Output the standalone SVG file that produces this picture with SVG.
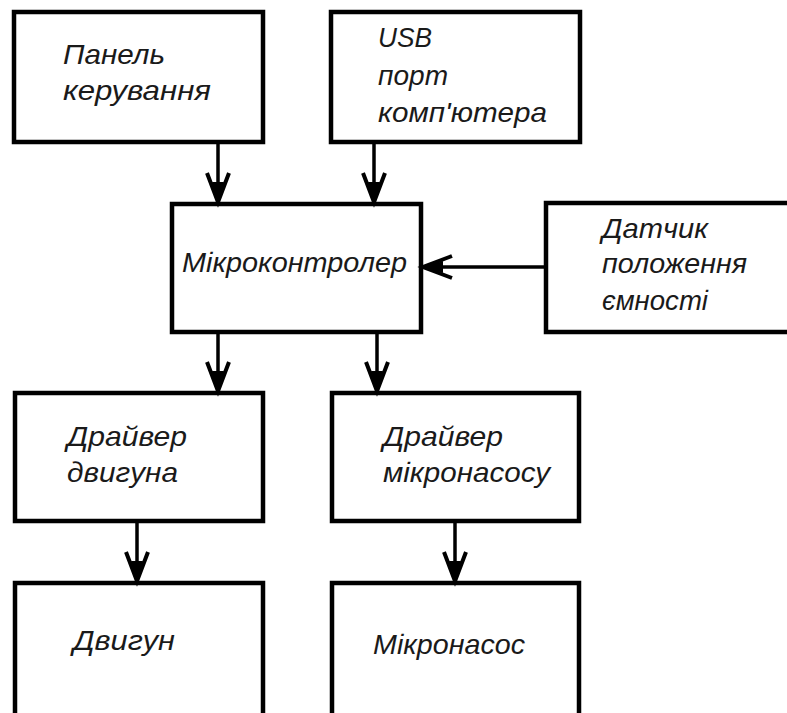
<svg xmlns="http://www.w3.org/2000/svg" width="787" height="713" viewBox="0 0 787 713">
  <style>
    .box { fill: #ffffff; stroke: #000000; stroke-width: 4.5; }
    .lbl { font-family: "Liberation Sans", "DejaVu Sans", sans-serif; font-style: italic; font-size: 28px; fill: #1a1a1a; }
    .wire { stroke: #000000; stroke-width: 3.5; fill: none; }
  </style>
  <defs>
    <marker id="arr" markerUnits="userSpaceOnUse" markerWidth="32" markerHeight="26" refX="30" refY="13" orient="auto" overflow="visible">
      <path d="M1,2 L30,13 L1,24" fill="none" stroke="#000" stroke-width="4"/>
      <path d="M10,7 L30,13 L10,19 Z" fill="#000"/>
    </marker>
  </defs>
  <rect width="787" height="713" fill="#ffffff"/>

  <g id="panel">
    <rect class="box" x="14" y="12" width="249" height="130"/>
    <text class="lbl" x="63" y="64" textLength="102" lengthAdjust="spacingAndGlyphs">Панель</text>
    <text class="lbl" x="63" y="100" textLength="148" lengthAdjust="spacingAndGlyphs">керування</text>
  </g>

  <g id="usb">
    <rect class="box" x="331" y="12" width="249" height="130"/>
    <text class="lbl" x="378" y="47" textLength="54" lengthAdjust="spacingAndGlyphs">USB</text>
    <text class="lbl" x="378" y="85" textLength="70" lengthAdjust="spacingAndGlyphs">порт</text>
    <text class="lbl" x="378" y="122" textLength="169" lengthAdjust="spacingAndGlyphs">комп'ютера</text>
  </g>

  <g id="mcu">
    <rect class="box" x="172" y="204" width="249" height="128"/>
    <text class="lbl" x="182" y="272" textLength="225" lengthAdjust="spacingAndGlyphs">Мікроконтролер</text>
  </g>

  <g id="sensor">
    <rect class="box" x="546" y="203" width="260" height="129"/>
    <text class="lbl" x="602" y="238" textLength="106" lengthAdjust="spacingAndGlyphs">Датчик</text>
    <text class="lbl" x="602" y="273" textLength="145" lengthAdjust="spacingAndGlyphs">положення</text>
    <text class="lbl" x="602" y="310" textLength="106" lengthAdjust="spacingAndGlyphs">ємності</text>
  </g>

  <g id="motor-driver">
    <rect class="box" x="15" y="393" width="248" height="128"/>
    <text class="lbl" x="67" y="446" textLength="120" lengthAdjust="spacingAndGlyphs">Драйвер</text>
    <text class="lbl" x="67" y="482" textLength="111" lengthAdjust="spacingAndGlyphs">двигуна</text>
  </g>

  <g id="pump-driver">
    <rect class="box" x="332" y="393" width="247" height="128"/>
    <text class="lbl" x="383" y="446" textLength="120" lengthAdjust="spacingAndGlyphs">Драйвер</text>
    <text class="lbl" x="383" y="482" textLength="167" lengthAdjust="spacingAndGlyphs">мікронасосу</text>
  </g>

  <g id="motor">
    <rect class="box" x="15" y="583" width="248" height="200"/>
    <text class="lbl" x="73" y="650" textLength="102" lengthAdjust="spacingAndGlyphs">Двигун</text>
  </g>

  <g id="pump">
    <rect class="box" x="332" y="583" width="247" height="200"/>
    <text class="lbl" x="373" y="654" textLength="152" lengthAdjust="spacingAndGlyphs">Мікронасос</text>
  </g>

  <g id="connectors">
    <line class="wire" x1="218" y1="144" x2="218" y2="202" marker-end="url(#arr)"/>
    <line class="wire" x1="374" y1="144" x2="374" y2="202" marker-end="url(#arr)"/>
    <line class="wire" x1="544" y1="267" x2="423" y2="267" marker-end="url(#arr)"/>
    <line class="wire" x1="218" y1="334" x2="218" y2="391" marker-end="url(#arr)"/>
    <line class="wire" x1="377" y1="334" x2="377" y2="391" marker-end="url(#arr)"/>
    <line class="wire" x1="137" y1="523" x2="137" y2="581" marker-end="url(#arr)"/>
    <line class="wire" x1="455" y1="523" x2="455" y2="581" marker-end="url(#arr)"/>
  </g>
</svg>
